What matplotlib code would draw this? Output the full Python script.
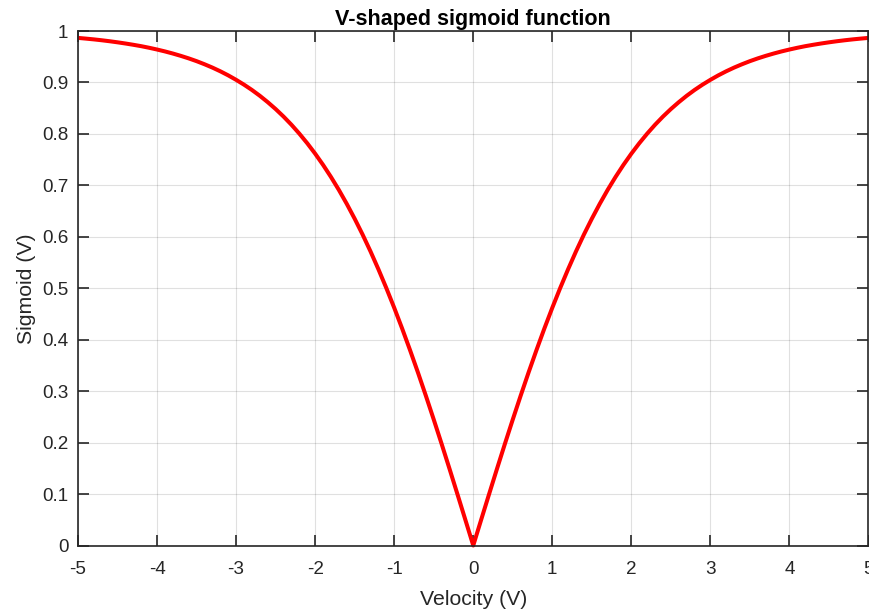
import matplotlib
matplotlib.use("Agg")
import matplotlib.pyplot as plt

# Values
velocity = [-5.0, -4.9, -4.8, -4.7, -4.6, -4.5, -4.4, -4.3, -4.2, -4.1,
            -4.0, -3.9, -3.8, -3.7, -3.6, -3.5, -3.4, -3.3, -3.2, -3.1,
            -3.0, -2.9, -2.8, -2.7, -2.6, -2.5, -2.4, -2.3, -2.2, -2.1,
            -2.0, -1.9, -1.8, -1.7, -1.6, -1.5, -1.4, -1.3, -1.2, -1.1,
            -1.0, -0.9, -0.8, -0.7, -0.6, -0.5, -0.4, -0.3, -0.2, -0.1,
            0.0,
            0.1, 0.2, 0.3, 0.4, 0.5, 0.6, 0.7, 0.8, 0.9, 1.0,
            1.1, 1.2, 1.3, 1.4, 1.5, 1.6, 1.7, 1.8, 1.9, 2.0,
            2.1, 2.2, 2.3, 2.4, 2.5, 2.6, 2.7, 2.8, 2.9, 3.0,
            3.1, 3.2, 3.3, 3.4, 3.5, 3.6, 3.7, 3.8, 3.9, 4.0,
            4.1, 4.2, 4.3, 4.4, 4.5, 4.6, 4.7, 4.8, 4.9, 5.0]
sigmoid = [0.9866, 0.9852, 0.9837, 0.9820, 0.9801, 0.9780, 0.9757, 0.9732, 0.9705, 0.9674,
           0.9640, 0.9603, 0.9562, 0.9517, 0.9468, 0.9414, 0.9354, 0.9289, 0.9217, 0.9138,
           0.9051, 0.8957, 0.8854, 0.8741, 0.8617, 0.8483, 0.8337, 0.8178, 0.8005, 0.7818,
           0.7616, 0.7398, 0.7163, 0.6911, 0.6640, 0.6351, 0.6044, 0.5717, 0.5370, 0.5005,
           0.4621, 0.4219, 0.3799, 0.3364, 0.2913, 0.2449, 0.1974, 0.1489, 0.0997, 0.0500,
           0.0,
           0.0500, 0.0997, 0.1489, 0.1974, 0.2449, 0.2913, 0.3364, 0.3799, 0.4219, 0.4621,
           0.5005, 0.5370, 0.5717, 0.6044, 0.6351, 0.6640, 0.6911, 0.7163, 0.7398, 0.7616,
           0.7818, 0.8005, 0.8178, 0.8337, 0.8483, 0.8617, 0.8741, 0.8854, 0.8957, 0.9051,
           0.9138, 0.9217, 0.9289, 0.9354, 0.9414, 0.9468, 0.9517, 0.9562, 0.9603, 0.9640,
           0.9674, 0.9705, 0.9732, 0.9757, 0.9780, 0.9801, 0.9820, 0.9837, 0.9852, 0.9866]
xticks = [-5, -4, -3, -2, -1, 0, 1, 2, 3, 4, 5]
yticks = [0, 0.1, 0.2, 0.3, 0.4, 0.5, 0.6, 0.7, 0.8, 0.9, 1]
ytick_labels = ["0", "0.1", "0.2", "0.3", "0.4", "0.5", "0.6", "0.7", "0.8", "0.9", "1"]

plt.rcParams['font.family'] = ['Liberation Sans', 'DejaVu Sans']
txt = '#262626'

fig = plt.figure(figsize=(8.7, 6.12), dpi=100)
ax = fig.add_axes([78/870, (612-545.5)/612, (868.5-78)/870, (545.5-31)/612])

ax.plot(velocity, sigmoid, color='#ff0000', linewidth=2.9, solid_capstyle='butt',
        solid_joinstyle='round', clip_on=False, zorder=3)

ax.set_xlim(-5, 5)
ax.set_ylim(0, 1)
ax.set_xticks(xticks)
ax.set_xticklabels([str(t) for t in xticks])
ax.set_yticks(yticks)
ax.set_yticklabels(ytick_labels)

ax.grid(True, color='#000000', alpha=0.12, linewidth=0.8)
ax.set_axisbelow(True)

for s in ax.spines.values():
    s.set_color(txt)
    s.set_linewidth(1.2)
    s.set_zorder(4)

ax.tick_params(direction='in', length=8, width=1.2, colors=txt, labelsize=13.6,
               top=True, right=True, pad=7)
ax.tick_params(axis='x', pad=11)

ax.set_xlabel('Velocity (V)', fontsize=15.3, color=txt, labelpad=9)
ax.set_ylabel('Sigmoid (V)', fontsize=15.3, color=txt, labelpad=4)
ax.set_title('V-shaped sigmoid function', fontsize=15.5, fontweight='bold', color='#000000', pad=4)

fig.savefig('out.png', dpi=100)
